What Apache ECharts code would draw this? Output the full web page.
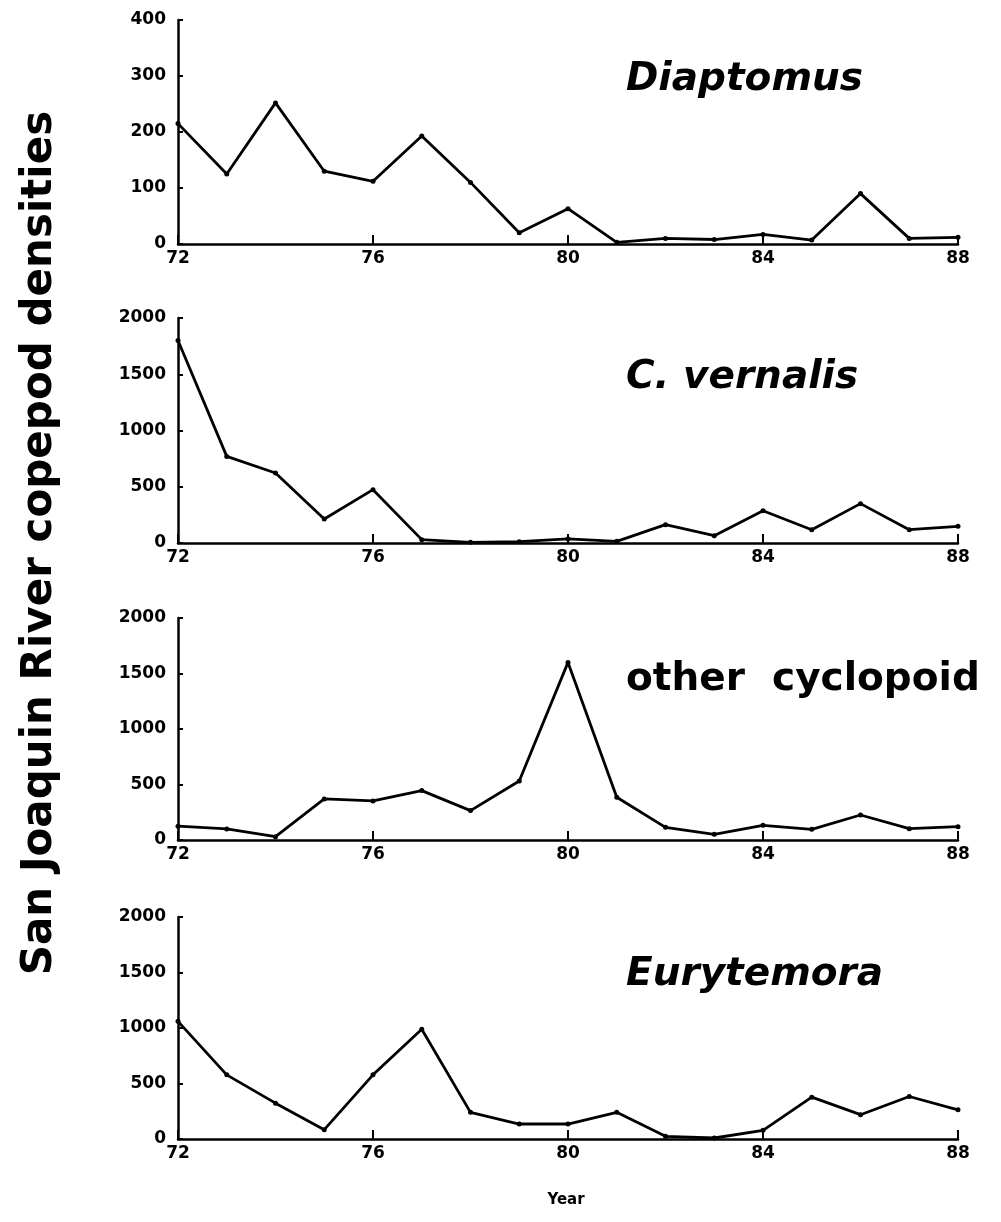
<!DOCTYPE html>
<html>
<head>
<meta charset="utf-8">
<script src="https://cdn.jsdelivr.net/npm/echarts@6/dist/echarts.min.js"></script>
<style>
  html, body { margin: 0; padding: 0; background: #fff; }
  #main { width: 1001px; height: 1222px; }
</style>
</head>
<body>
<div id="main"></div>
<script>
// years on the x axis
var years = [72, 73, 74, 75, 76, 77, 78, 79, 80, 81, 82, 83, 84, 85, 86, 87, 88];

// densities
var diaptomus = [215, 125, 252, 130, 112, 193, 110, 20, 63, 3, 10, 8, 17, 7, 90, 10, 12];
var cVernalis = [1800, 770, 622, 213, 474, 30, 6, 12, 36, 15, 163, 65, 287, 118, 350, 118, 148];
var otherCyclopoid = [125, 100, 30, 370, 352, 445, 265, 532, 1600, 385, 114, 51, 132, 96, 225, 102, 120];
var eurytemora = [1060, 578, 323, 84, 578, 988, 240, 135, 135, 240, 24, 9, 78, 377, 219, 383, 263];

var yMax = [400, 2000, 2000, 2000];
var yStep = [100, 500, 500, 500];
var labels = ['Diaptomus', 'C. vernalis', 'other  cyclopoid', 'Eurytemora'];

var allSeries = [diaptomus, cVernalis, otherCyclopoid, eurytemora];
var gridTops = [20, 318, 618, 917];
var gridH = [224, 225, 222, 222];
var labelY = [80, 378, 680, 975];
var labelItalic = [true, true, false, true];

var font = 'DejaVu Sans';

var chart = echarts.init(document.getElementById('main'));

var grids = [], xAxes = [], yAxes = [], series = [], graphics = [];
for (var i = 0; i < 4; i++) {
  grids.push({ left: 178, width: 780, top: gridTops[i], height: gridH[i] });
  xAxes.push({
    type: 'value', gridIndex: i, min: 72, max: 88, interval: 4,
    axisLine: { lineStyle: { color: '#000', width: 2.5 } },
    axisTick: { inside: true, length: 9, lineStyle: { color: '#000', width: 2 } },
    axisLabel: { color: '#000', fontFamily: font, fontWeight: 'bold', fontSize: 17, margin: 6 },
    splitLine: { show: false }
  });
  yAxes.push({
    type: 'value', gridIndex: i, min: 0, max: yMax[i], interval: yStep[i],
    axisLine: { show: true, lineStyle: { color: '#000', width: 2.5 } },
    axisTick: { show: true, inside: true, length: 5, lineStyle: { color: '#000', width: 2 } },
    axisLabel: {
      color: '#000', fontFamily: font, fontWeight: 'bold', fontSize: 17, margin: 12,
      formatter: function (v) { return String(v); }
    },
    splitLine: { show: false }
  });
  series.push({
    type: 'line', xAxisIndex: i, yAxisIndex: i,
    data: years.map(function (y, k) { return [y, allSeries[i][k]]; }),
    symbol: 'circle', symbolSize: 5,
    itemStyle: { color: '#000' },
    lineStyle: { color: '#000', width: 2.8 },
    animation: false
  });
  graphics.push({
    type: 'text', x: 626, y: labelY[i],
    style: {
      text: labels[i], fill: '#000',
      font: (labelItalic[i] ? 'italic ' : '') + 'bold 39px "' + font + '"',
      textVerticalAlign: 'middle'
    }
  });
}

graphics.push({
  type: 'text', x: 40, y: 543, rotation: Math.PI / 2,
  style: {
    text: 'San Joaquin River copepod densities', fill: '#000',
    font: 'bold 42px "' + font + '"',
    textAlign: 'center', textVerticalAlign: 'middle'
  }
});
graphics.push({
  type: 'text', x: 566, y: 1200,
  style: {
    text: 'Year', fill: '#000', font: 'bold 15px "' + font + '"',
    textAlign: 'center', textVerticalAlign: 'middle'
  }
});

chart.setOption({
  backgroundColor: '#fff',
  animation: false,
  grid: grids,
  xAxis: xAxes,
  yAxis: yAxes,
  series: series,
  graphic: graphics
});
</script>
</body>
</html>
